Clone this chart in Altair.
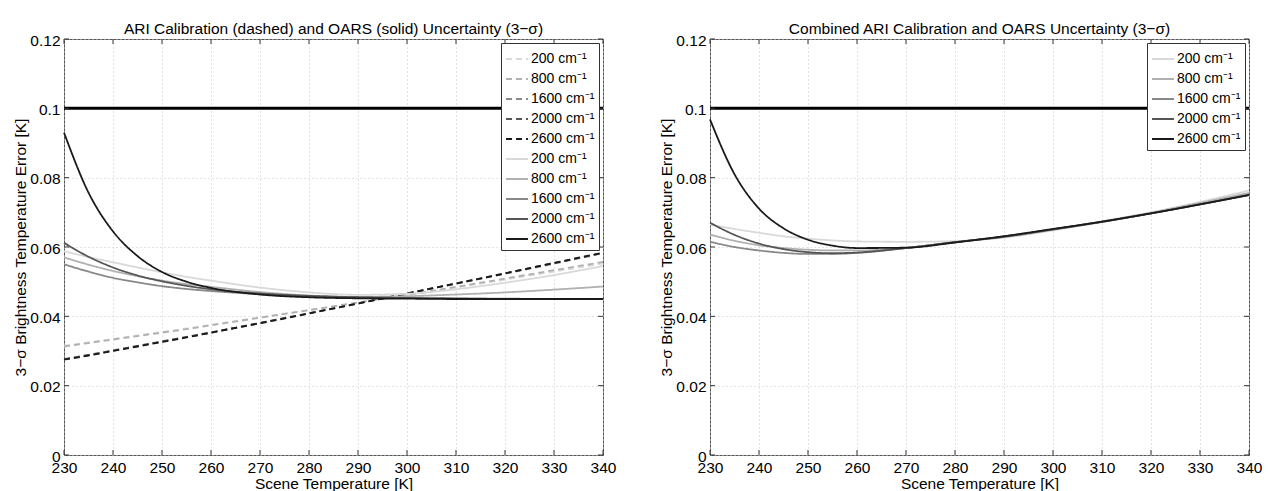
import altair as alt
import pandas as pd

# ---------------- data ----------------
temps = [230, 235, 240, 245, 250, 255, 260, 270, 280, 290, 300, 310, 320, 330, 340]
wavenumbers = ["200", "800", "1600", "2000", "2600"]

# ARI calibration (dashed), left panel
ari_200 = [0.0315, 0.0325, 0.0335, 0.0345, 0.0355, 0.0365, 0.0376, 0.0397, 0.0418, 0.0439, 0.0461, 0.0483, 0.0506, 0.0529, 0.0552]
ari_800 = [0.0313, 0.0323, 0.0333, 0.0343, 0.0353, 0.0363, 0.0374, 0.0396, 0.0418, 0.0440, 0.0462, 0.0485, 0.0509, 0.0533, 0.0557]
ari_1600 = [0.0277, 0.0289, 0.0302, 0.0315, 0.0328, 0.0341, 0.0354, 0.0381, 0.0409, 0.0437, 0.0466, 0.0494, 0.0523, 0.0552, 0.0582]
ari_2000 = [0.0276, 0.0288, 0.0301, 0.0314, 0.0327, 0.0340, 0.0353, 0.0381, 0.0409, 0.0437, 0.0466, 0.0495, 0.0524, 0.0554, 0.0583]
ari_2600 = [0.0275, 0.0287, 0.0300, 0.0313, 0.0326, 0.0339, 0.0353, 0.0380, 0.0408, 0.0437, 0.0466, 0.0495, 0.0524, 0.0554, 0.0584]

# OARS (solid), left panel
oars_200 = [0.0588, 0.0571, 0.0556, 0.0541, 0.0527, 0.0514, 0.0503, 0.0483, 0.0469, 0.0462, 0.0465, 0.0478, 0.0497, 0.0519, 0.0545]
oars_800 = [0.0570, 0.0549, 0.0531, 0.0516, 0.0503, 0.0493, 0.0485, 0.0470, 0.0460, 0.0456, 0.0458, 0.0463, 0.0469, 0.0477, 0.0486]
oars_1600 = [0.0550, 0.0529, 0.0511, 0.0498, 0.0487, 0.0479, 0.0473, 0.0464, 0.0458, 0.0455, 0.0453, 0.0452, 0.0451, 0.0450, 0.0450]
oars_2000 = [0.0612, 0.0572, 0.0541, 0.0518, 0.0501, 0.0488, 0.0478, 0.0466, 0.0459, 0.0455, 0.0453, 0.0451, 0.0450, 0.0450, 0.0450]
oars_2600 = [0.0930, 0.0757, 0.0645, 0.0574, 0.0528, 0.0500, 0.0482, 0.0463, 0.0455, 0.0452, 0.0451, 0.0450, 0.0450, 0.0450, 0.0450]

# Combined (right panel)
comb_200 = [0.0665, 0.0652, 0.0641, 0.0631, 0.0624, 0.0619, 0.0616, 0.0615, 0.0617, 0.0627, 0.0648, 0.0673, 0.0700, 0.0730, 0.0763]
comb_800 = [0.0636, 0.0618, 0.0605, 0.0597, 0.0592, 0.0590, 0.0590, 0.0598, 0.0614, 0.0631, 0.0651, 0.0674, 0.0699, 0.0727, 0.0756]
comb_1600 = [0.0615, 0.0600, 0.0590, 0.0583, 0.0580, 0.0580, 0.0583, 0.0597, 0.0614, 0.0629, 0.0650, 0.0672, 0.0697, 0.0723, 0.0751]
comb_2000 = [0.0670, 0.0635, 0.0610, 0.0594, 0.0585, 0.0582, 0.0584, 0.0597, 0.0614, 0.0630, 0.0651, 0.0673, 0.0697, 0.0723, 0.0750]
comb_2600 = [0.0968, 0.0810, 0.0711, 0.0654, 0.0621, 0.0604, 0.0597, 0.0598, 0.0613, 0.0631, 0.0652, 0.0673, 0.0697, 0.0723, 0.0750]

limit_value = [0.1]
x_ticks = [230, 240, 250, 260, 270, 280, 290, 300, 310, 320, 330, 340]
y_ticks = [0, 0.02, 0.04, 0.06, 0.08, 0.1, 0.12]

grays = ["#d9d9d9", "#b0b0b0", "#888888", "#555555", "#1a1a1a"]

title_left = "ARI Calibration (dashed) and OARS (solid) Uncertainty (3\u2212\u03c3)"
title_right = "Combined ARI Calibration and OARS Uncertainty (3\u2212\u03c3)"
y_title = "3\u2212\u03c3 Brightness Temperature Error [K]"
x_title = "Scene Temperature [K]"

# ---------------- helpers ----------------
W, H = 539, 416
SPACING = 107
PAD_L, PAD_T = 56, 31
SVG_W, SVG_H = 1255, 490
FONT = 15.5


def long_df(prefix, series):
    rows = []
    for wn, vals in zip(wavenumbers, series):
        for t, v in zip(temps, vals):
            rows.append({"T": t, "value": v, "key": f"{prefix} {wn}"})
    return pd.DataFrame(rows)


def panel(df, keys, colors, dashes, title):
    xs = alt.Scale(domain=[230, 340], nice=False, zero=False)
    ys = alt.Scale(domain=[0, 0.12], nice=False)
    common = dict(grid=True, gridDash=[1, 3], gridColor="#c8c8c8", gridWidth=1,
                  ticks=False, domain=False, labelFontSize=FONT, titleFontSize=FONT,
                  labelColor="black", titleColor="black", titleFontWeight="normal")
    xaxis = alt.Axis(values=x_ticks, format="d", title=x_title, labelPadding=5,
                     titleBaseline="alphabetic", titleY=33, labelFlush=False, **common)
    yaxis = alt.Axis(values=y_ticks, format=".2~f", title=y_title, labelPadding=4,
                     labelOffset=1, titleX=-36, **common)
    X = alt.X("T:Q", scale=xs, axis=xaxis)
    Y = alt.Y("value:Q", scale=ys, axis=yaxis)
    leg = alt.Legend(title=None, orient="top-right", offset=4,
                     labelExpr="split(datum.label, ' ')[1] + ' cm\u207b\u00b9'",
                     symbolType="stroke", symbolSize=480, symbolStrokeWidth=1.8,
                     labelFontSize=14, labelColor="black", strokeColor="#333333",
                     fillColor="white", padding=4, rowPadding=1, labelOffset=2)
    lines = alt.Chart(df).mark_line(strokeWidth=1.8, interpolate="monotone").encode(
        x=X, y=Y,
        color=alt.Color("key:N", scale=alt.Scale(domain=keys, range=colors), legend=leg),
        strokeDash=alt.StrokeDash("key:N", scale=alt.Scale(domain=keys, range=dashes), legend=leg),
    )
    hline = alt.Chart(pd.DataFrame({"value": limit_value})).mark_rule(
        color="black", strokeWidth=3).encode(y=Y)
    xt = pd.DataFrame({"T": x_ticks})
    yt = pd.DataFrame({"value": y_ticks})
    tick_style = dict(color="#333333", strokeWidth=1)
    tb = alt.Chart(xt).mark_rule(**tick_style).encode(x=X, y=alt.value(H), y2=alt.value(H - 5))
    tt = alt.Chart(xt).mark_rule(**tick_style).encode(x=X, y=alt.value(0), y2=alt.value(5))
    tl = alt.Chart(yt).mark_rule(**tick_style).encode(y=Y, x=alt.value(0), x2=alt.value(5))
    tr = alt.Chart(yt).mark_rule(**tick_style).encode(y=Y, x=alt.value(W), x2=alt.value(W - 5))
    return alt.layer(lines, hline, tb, tt, tl, tr).properties(
        width=W, height=H,
        title=alt.TitleParams(text=title, fontSize=FONT, fontWeight="normal", offset=0, dy=16,
                              baseline="alphabetic", anchor="middle", color="black"),
    )


left_df = pd.concat([
    long_df("ARI", [ari_200, ari_800, ari_1600, ari_2000, ari_2600]),
    long_df("OARS", [oars_200, oars_800, oars_1600, oars_2000, oars_2600]),
])
left_keys = [f"ARI {w}" for w in wavenumbers] + [f"OARS {w}" for w in wavenumbers]
left = panel(left_df, left_keys, grays + grays, [[6, 4]] * 5 + [[1, 0]] * 5, title_left)

right_df = long_df("C", [comb_200, comb_800, comb_1600, comb_2000, comb_2600])
right_keys = [f"C {w}" for w in wavenumbers]
right = panel(right_df, right_keys, grays, [[1, 0]] * 5, title_right)

chart = alt.hconcat(left, right, spacing=SPACING, bounds="flush").resolve_scale(
    color="independent", strokeDash="independent"
).resolve_legend(
    color="independent", strokeDash="independent"
).properties(
    autosize=alt.AutoSizeParams(type="none"),
    padding={"left": PAD_L, "top": PAD_T, "right": SVG_W - PAD_L, "bottom": SVG_H - PAD_T},
).configure(font="Liberation Sans").configure_view(stroke="#555555", strokeWidth=1)

chart.save("out.html", embed_options={"renderer": "svg", "actions": False})
